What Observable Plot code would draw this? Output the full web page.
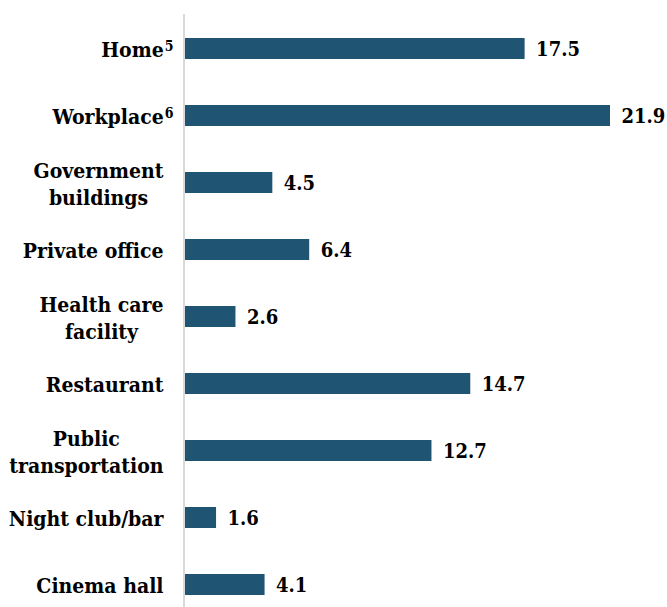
<!DOCTYPE html>
<html><head><meta charset="utf-8">
<script src="https://cdn.jsdelivr.net/npm/d3@7"></script>
<script src="https://cdn.jsdelivr.net/npm/@observablehq/plot@0.6"></script>
<style>body{margin:0;background:#fff}</style>
</head><body><div id="chart"></div>
<script>
const categories = ["Home⁵","Workplace⁶","Government\nbuildings","Private office","Health care\nfacility","Restaurant","Public\ntransportation","Night club/bar","Cinema hall"];
const values = [17.5,21.9,4.5,6.4,2.6,14.7,12.7,1.6,4.1];
const data = categories.map((c,i)=>({category:c, value:values[i]}));
const font = "'DejaVu Serif Condensed','DejaVu Serif',serif";
const chart = Plot.plot({
  width: 667, height: 607,
  marginLeft: 185, marginRight: 57, marginTop: 14, marginBottom: 0,
  style: {fontFamily: font, fontWeight: "bold", fontSize: "20px", color: "#000", background: "#fff", fontStretch: "condensed"},
  x: {domain: [0, 21.9], axis: null},
  y: {domain: categories, range: [14.2, 618.6], paddingInner: 0.687, paddingOuter: 0.3435, label: null, axis: null},
  marks: [
    Plot.barX(data, {x: "value", y: "category", fill: "#1f5572"}),
    Plot.ruleX([0], {stroke: "#d9d9d9", strokeWidth: 2, dx: -1.5}),
    Plot.text(data, {x: "value", y: "category", text: d => d.value.toFixed(1), textAnchor: "start", dx: 11, dy: 1, fill: "#000", fontSize: 20}),
    Plot.axisY({tickSize: 0, tickPadding: 22, lineHeight: 1.25, fontSize: 21, fill: "#000", label: null})
  ]
});
document.getElementById("chart").appendChild(chart);
const sup = {"⁵": "5", "⁶": "6"};
chart.querySelectorAll("text").forEach(t => {
  const spans = t.querySelectorAll("tspan");
  if (spans.length > 1) {
    let maxW = 0;
    spans.forEach(s => { maxW = Math.max(maxW, s.getComputedTextLength()); });
    t.setAttribute("text-anchor", "middle");
    spans.forEach(s => s.setAttribute("x", -maxW / 2));
  } else if (spans.length === 0) {
    const txt = t.textContent;
    const last = txt.slice(-1);
    if (sup[last]) {
      t.textContent = txt.slice(0, -1);
      const ts = document.createElementNS("http://www.w3.org/2000/svg", "tspan");
      ts.setAttribute("font-size", 14);
      ts.setAttribute("dy", "-0.45em");
      ts.setAttribute("dx", 1);
      ts.textContent = sup[last];
      t.appendChild(ts);
      const tr = t.getAttribute("transform") || "";
      t.setAttribute("transform", tr + " translate(10,0)");
    }
  }
});
</script>
</body></html>
